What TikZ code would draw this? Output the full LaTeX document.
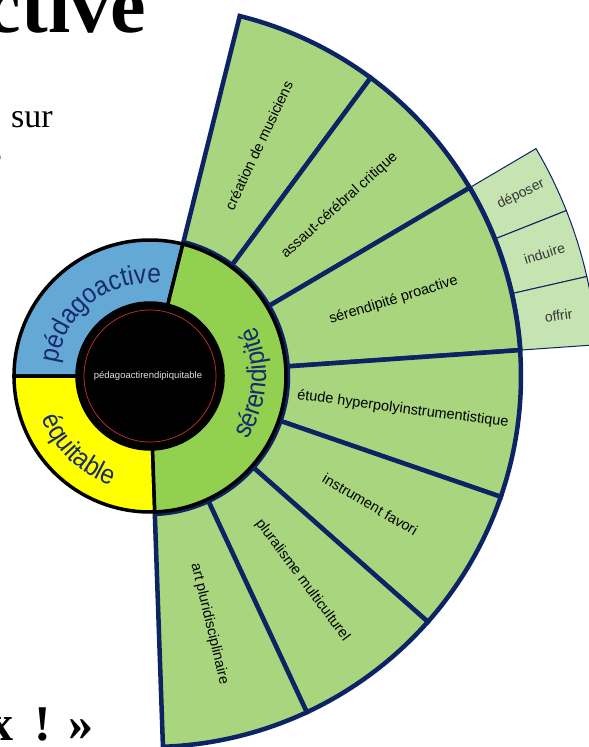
\documentclass[tikz,border=0pt]{standalone}
\usepackage{fontspec}
\setmainfont{Liberation Sans}
\newfontfamily\titlefont{Liberation Serif}
\newfontfamily\ringfont{Liberation Sans}[FakeStretch=0.9]
\usetikzlibrary{decorations.text}

\definecolor{navy}{RGB}{12,35,100}
\definecolor{textnavy}{RGB}{22,44,110}
\definecolor{greenout}{RGB}{168,213,125}
\definecolor{greenmid}{RGB}{146,208,80}
\definecolor{greenlight}{RGB}{198,227,178}
\definecolor{bluemid}{RGB}{100,168,214}
\definecolor{yellowmid}{RGB}{255,255,0}
\definecolor{redring}{RGB}{200,50,50}
\definecolor{coretext}{RGB}{225,225,225}
\definecolor{leaftext}{RGB}{55,55,55}

% #1 style, #2 start angle, #3 end angle, #4 inner radius, #5 outer radius
\newcommand\ringsector[5]{%
  \path[#1] (#2:#4) -- (#2:#5) arc[start angle=#2, end angle=#3, radius=#5]
    -- (#3:#4) arc[start angle=#3, end angle=#2, radius=#4] -- cycle;}

\tikzset{
  outersec/.style={fill=greenout, draw=navy, line width=4.5pt},
  leafsec/.style={fill=greenlight, draw=navy, line width=1pt},
  midsec/.style={draw=black, line width=3.5pt},
  outerlabel/.style={font=\fontsize{14.5}{14.5}\selectfont, text=black, inner sep=0pt},
  leaflabel/.style={font=\fontsize{14}{14}\selectfont, text=leaftext, inner sep=0pt},
  slidetext/.style={inner sep=0pt, text=black},
}

\begin{document}
\begin{tikzpicture}[x=1pt,y=1pt]
\useasboundingbox (-150,-371) rectangle (439,376);
\clip (-150,-371) rectangle (439,376);

% background slide text fragments
\node[slidetext, anchor=base east, font=\titlefont\bfseries\fontsize{80}{80}\selectfont] (title) at (-4,343) {ctive};
\node[slidetext, anchor=base west, font=\titlefont\fontsize{34}{34}\selectfont] (sur) at (-139,248) {sur};
\node[slidetext, anchor=base east, font=\titlefont\fontsize{34}{34}\selectfont] (frag) at (-148,208) {e};
\node[slidetext, anchor=base west, font=\titlefont\bfseries\fontsize{50}{50}\selectfont] (quote) at (-162,-364) {x\hspace{21pt}!\hspace{18pt}»};

% third ring (children of "sérendipité proactive")
\ringsector{leafsec}{30.5}{21.67}{373pt}{448pt}
\ringsector{leafsec}{21.67}{12.83}{373pt}{448pt}
\ringsector{leafsec}{12.83}{4}{373pt}{448pt}

% outer ring (children of "sérendipité")
\ringsector{outersec}{76}{53.5}{138pt}{371pt}
\ringsector{outersec}{53.5}{30.5}{138pt}{371pt}
\ringsector{outersec}{30.5}{4}{138pt}{371pt}
\ringsector{outersec}{4}{-19}{138pt}{371pt}
\ringsector{outersec}{-19}{-41.5}{138pt}{371pt}
\ringsector{outersec}{-41.5}{-65}{138pt}{371pt}
\ringsector{outersec}{-65}{-88}{138pt}{371pt}

% middle ring
\ringsector{midsec, fill=bluemid}{76}{180}{73pt}{136pt}
\ringsector{midsec, fill=yellowmid}{180}{272}{73pt}{136pt}
\ringsector{midsec, fill=greenmid}{-88}{76}{73pt}{136pt}

% core
\fill[black] (0,0) circle[radius=74pt];
\draw[redring, line width=0.7pt] (0,0) circle[radius=66pt];
\node[font=\fontsize{9.5}{9.5}\selectfont, text=coretext] (core) at (-2,0) {pédagoactirendipiquitable};

% curved labels of the middle ring
\path[decorate, decoration={text along path, text align=center, text color=textnavy,
  text={|\ringfont\fontsize{27}{27}\selectfont|pédagoactive}}]
  (180:93pt) arc[start angle=180, end angle=76, radius=93pt];
\path[decorate, decoration={text along path, text align=center, text color=textnavy,
  text={|\ringfont\fontsize{27}{27}\selectfont|équitable}}]
  (180:116pt) arc[start angle=180, end angle=272, radius=116pt];
\path[decorate, decoration={text along path, text align=center, text color=textnavy,
  text={|\ringfont\fontsize{27}{27}\selectfont|sérendipité}}]
  (-86:116pt) arc[start angle=-86, end angle=78, radius=116pt];

% outer labels
\node[outerlabel, rotate=64.75] (l1) at (64.75:255pt) {création de musiciens};
\node[outerlabel, rotate=42] (l2) at (42:255pt) {assaut-cérébral critique};
\node[outerlabel, rotate=17.25] (l3) at (17.25:255pt) {sérendipité proactive};
\node[outerlabel, rotate=-7.5] (l4) at (-7.5:255pt) {étude hyperpolyinstrumentistique};
\node[outerlabel, rotate=-30.25] (l5) at (-30.25:255pt) {instrument favori};
\node[outerlabel, rotate=-53.25] (l6) at (-53.25:255pt) {pluralisme multiculturel};
\node[outerlabel, rotate=-76.5] (l7) at (-76.5:255pt) {art pluridisciplinaire};

% leaf labels
\node[leaflabel, rotate=26.1] (d1) at (26.1:413pt) {déposer};
\node[leaflabel, rotate=17.25] (d2) at (17.25:413pt) {induire};
\node[leaflabel, rotate=8.4] (d3) at (8.4:413pt) {offrir};
\end{tikzpicture}
\end{document}
